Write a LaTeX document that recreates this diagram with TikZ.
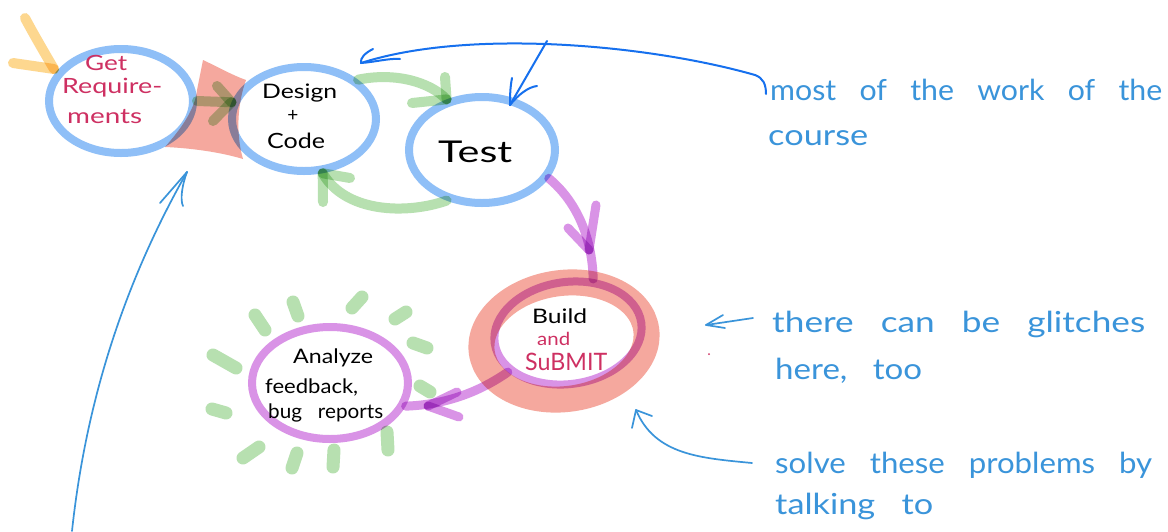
\documentclass[tikz,border=0pt]{standalone}
\usepackage{fontspec}
\usepackage{graphicx}
\usetikzlibrary{shapes.geometric}
\setmainfont{Lato}
\newfontfamily\hand{Lato}[WordSpace=3]

\definecolor{ringblue}{RGB}{143,191,247}
\definecolor{inkblue}{RGB}{58,148,218}
\definecolor{penblue}{RGB}{22,112,238}
\definecolor{crimson}{RGB}{206,48,98}
\definecolor{salmon}{RGB}{245,168,158}
\definecolor{plum}{RGB}{217,147,230}
\definecolor{leaf}{RGB}{183,224,176}
\definecolor{amber}{RGB}{253,215,143}

% stretch a handwritten word to a given width, keeping its height
\newcommand{\fitw}[2]{\resizebox{#1pt}{\height}{#2}}

\tikzset{
  ring/.style={ellipse, draw=ringblue, line width=8pt, inner sep=0pt},
  txt/.style={inner sep=0pt, anchor=base west},
  dfont/.style={font=\hand\fontsize{#1}{#1}\selectfont},
  grn/.style={draw=leaf, line width=10pt, line cap=round, line join=round},
  pur/.style={draw=plum, line width=9pt, line cap=round, line join=round},
  yel/.style={draw=amber, line width=10pt, line cap=round, line join=round},
  sun/.style={draw=leaf, line width=13pt, line cap=round},
  pen/.style={draw=penblue, line width=2pt, line cap=round, line join=round},
  ink/.style={draw=inkblue, line width=1.7pt, line cap=round, line join=round},
  note/.style={txt, text=inkblue, dfont=29},
}

\begin{document}
\begin{tikzpicture}[x=1pt,y=-1pt]
\useasboundingbox (0,0) rectangle (1168,531);
\fill[white] (0,0) rectangle (1168,531);

% the three development steps
\node[ring, minimum width=144pt, minimum height=104pt] (getreq) at (121,101) {};
\node[ring, minimum width=144pt, minimum height=104pt] (design) at (304,119) {};
\node[ring, minimum width=146pt, minimum height=106pt] (test) at (482,150) {};

\begin{scope}[blend mode=multiply]
  % marker highlight between requirements and design
  \fill[salmon] (203,60) .. controls (220,68) and (232,75) .. (246,80)
    .. controls (237,105) and (236,135) .. (243,159)
    .. controls (220,152) and (190,148) .. (165,147)
    .. controls (180,130) and (195,110) .. (197,90) -- cycle;

  % build-and-submit step with its thick glow
  \draw[salmon, line width=26pt, rotate around={8:(564,341)}]
    (564,341) ellipse [x radius=83pt, y radius=58pt];
  \node[ellipse, draw=plum, line width=8pt, inner sep=0pt, rotate=8,
        minimum width=148pt, minimum height=102pt] (build) at (568,333) {};

  % analysis step with its sunburst
  \node[ellipse, draw=plum, line width=8pt, inner sep=0pt,
        minimum width=156pt, minimum height=112pt] (analyze) at (330,383) {};
  \foreach \xa/\ya/\xb/\yb in {255/315/265/330, 293/302/298/316, 362/297/352/308,
      406/312/395/319, 413/343/427/348, 420/386/430/392, 387/432/388/450,
      334/450/333/467, 297/453/292/468, 259/447/243/458, 212/409/226/413,
      213/355/236/368}
    \draw[sun] (\xa,\ya) -- (\xb,\yb);

  % incoming stroke
  \coordinate (atip) at (54,69);
  \draw[yel] (25,18) .. controls (33,33) and (44,52) .. (atip);
  \draw[yel] (13,63) -- (atip);

  % requirements -> design
  \draw[grn] (getreq.east) -- (design.167);
  \draw[grn] (217,86) -- (design.167);
  \draw[grn] (213,121) -- (design.167);

  % design -> test
  \draw[grn] (design.36) .. controls (395,72) and (430,82) .. (test.125);
  \draw[grn] (445,77) -- (test.125);
  \draw[grn] (412,103) -- (test.125);

  % test -> design
  \draw[grn] (test.235) .. controls (405,215) and (345,212) .. (design.289);
  \draw[grn] (323,202) -- (design.289);
  \draw[grn] (350,178) -- (design.289);

  % test -> build
  \coordinate (etip) at (589,250);
  \draw[pur] (test.-23) .. controls (575,200) and (592,235) .. (build.57);
  \draw[pur] (596,205) -- (etip);
  \draw[pur] (568,228) -- (etip);

  % build -> analyze
  \coordinate (ftip) at (428,406);
  \draw[pur] (build.205) .. controls (475,395) and (440,405) .. (analyze.-17);
  \draw[pur] (457,392) -- (ftip);
  \draw[pur] (459,417) -- (ftip);
\end{scope}

% step labels
\node[txt, text=crimson, dfont=21] (tget) at (85,70) {\fitw{42}{Get}};
\node[txt, text=crimson, dfont=21] (treq) at (62,93) {\fitw{100}{Require-}};
\node[txt, text=crimson, dfont=21] (tments) at (67,123) {\fitw{75}{ments}};
\node[txt, dfont=20] (tdesign) at (262,98) {\fitw{75}{Design}};
\node[inner sep=0pt, dfont=19] (tplus) at (293,116) {+};
\node[txt, dfont=21] (tcode) at (267,148) {\fitw{58}{Code}};
\node[txt, dfont=30] (ttest) at (438,162) {\fitw{74}{Test}};
\node[txt, dfont=20] (tbuild) at (532,323) {\fitw{55}{Build}};
\node[txt, text=crimson, dfont=18] (tand) at (537,345) {\fitw{33}{and}};
\node[txt, text=crimson, dfont=24] (tsubmit) at (525,370) {\fitw{82}{SuBMIT}};
\node[txt, dfont=20] (tanalyze) at (293,363) {\fitw{80}{Analyze}};
\node[txt, dfont=20] (tfeed) at (265,393) {\fitw{93}{feedback,}};
\node[txt, dfont=20] (tbug) at (268,418) {\fitw{115}{bug reports}};

% annotations
\node[note] (nwork) at (770,100) {\fitw{392}{most of the work of the}};
\node[note] (ncourse) at (768,145) {\fitw{100}{course}};
\node[note] (nglitch) at (772,332) {\fitw{373}{there can be glitches}};
\node[note] (nhere) at (775,379) {\fitw{147}{here, too}};
\node[note] (nsolve) at (775,473) {\fitw{377}{solve these problems by}};
\node[note] (ntalk) at (775,514) {\fitw{158}{talking to}};

% annotation pointers
\coordinate (gtip) at (361,63);
\draw[pen] (766,94) .. controls (766,84) and (763,78) .. (755,75)
  .. controls (650,45) and (470,28) .. (gtip);
\draw[pen] (373,49) .. controls (365,53) and (360,58) .. (gtip);
\draw[pen] (gtip) .. controls (375,62) and (390,58) .. (400,59);

\coordinate (htip) at (510,105);
\draw[pen] (547,41) -- (htip);
\draw[pen] (512,78) .. controls (510,88) and (510,98) .. (htip);
\draw[pen] (htip) .. controls (518,95) and (528,87) .. (537,86);

\coordinate (itip) at (187,172);
\draw[ink] (72,531) .. controls (85,410) and (120,290) .. (itip);
\draw[ink] (160,203) -- (itip);
\draw[ink] (itip) .. controls (182,185) and (180,200) .. (183,206);

\coordinate (jtip) at (706,325);
\draw[ink] (753,318) -- (jtip);
\draw[ink] (723,315) -- (jtip) -- (725,328);

\coordinate (ktip) at (636,410);
\draw[ink] (752,463) .. controls (700,458) and (655,455) .. (ktip);
\draw[ink] (632,428) -- (ktip) -- (652,416);

% stray pen dot
\fill[crimson] (709,354) circle (1pt);
\end{tikzpicture}
\end{document}
